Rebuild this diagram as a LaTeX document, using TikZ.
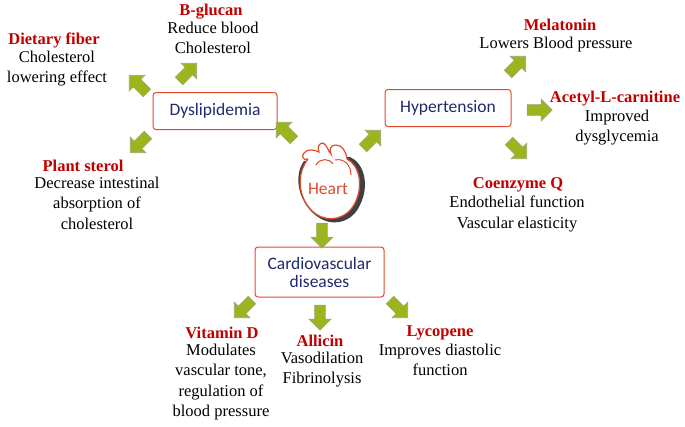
\documentclass[tikz,border=0pt]{standalone}
\usepackage{fontspec}
\setmainfont{Liberation Serif}
\newfontfamily\boxfont{Carlito}
\usetikzlibrary{shapes.arrows}
\definecolor{ttl}{HTML}{C00000}
\definecolor{navy}{HTML}{1F2A6B}
\definecolor{grn}{HTML}{9BB51E}
\definecolor{grnd}{HTML}{5E6E10}
\definecolor{bxr}{HTML}{E04A2A}
\begin{document}
\begin{tikzpicture}[x=1pt,y=-1pt,
  box/.style={draw=bxr,line width=1pt,rounded corners=3pt,fill=white,text=navy,font=\boxfont\fontsize{17.5}{19}\selectfont,align=center,inner sep=0pt},
  blk/.style={single arrow,draw=grnd!60,fill=grn,line width=0.6pt,minimum height=25pt,minimum width=22pt,single arrow head extend=3pt,inner sep=2.5pt,rotate=#1},
  ttl/.style={text=ttl,font=\bfseries\fontsize{16.5}{20}\selectfont,inner sep=0pt},
  bd/.style={font=\fontsize{16.5}{20.3}\selectfont,align=center,inner sep=0pt}]
\useasboundingbox (0,0) rectangle (685,426);
\node[box,minimum width=124pt,minimum height=37pt] (dys) at (215,111) {Dyslipidemia};
\node[box,minimum width=126pt,minimum height=37pt] (hyp) at (448,108) {Hypertension};
\node[box,minimum width=129pt,minimum height=50pt,text width=120pt] (cvd) at (319.5,272) {Cardiovascular\\[-1pt]diseases};
% heart
\begin{scope}[shift={(330,183)}]
\fill[black!75] (-26,-22) .. controls (-38,-5) and (-30,22) .. (-12,34) .. controls (2,44) and (22,40) .. (30,22) .. controls (40,2) and (34,-20) .. (20,-26) -- cycle;
\draw[bxr,line width=1.2pt,fill=white] (-22,-24) .. controls (-36,-6) and (-30,20) .. (-14,31) .. controls (-1,40) and (17,36) .. (25,20) .. controls (34,2) and (29,-18) .. (17,-24)
  .. controls (16,-32) and (12,-38) .. (6,-38) .. controls (0,-38) and (-1,-33) .. (1,-29) .. controls (-2,-32) and (-3,-38) .. (-7,-40)
  .. controls (-11,-40) and (-13,-36) .. (-11,-31) .. controls (-15,-33) and (-22,-35) .. (-26,-30) .. controls (-29,-27) and (-27,-22) .. (-22,-24);
\draw[bxr,line width=1pt] (-14,-18) .. controls (-10,-25) and (-1,-25) .. (3,-19);
\draw[bxr,line width=1pt] (5,-23) .. controls (14,-25) and (21,-18) .. (21,-8);
\node[text=bxr,font=\boxfont\fontsize{17.5}{19}\selectfont] (heart) at (-2,6) {Heart};
\end{scope}
% arrows
\node[blk=135] (a1) at (140,86) {};
\node[blk=45] (a2) at (186,74) {};
\node[blk=225] (a3) at (141,142) {};
\node[blk=135] (a4) at (287,133) {};
\node[blk=45] (a5) at (370,141) {};
\node[blk=45] (a6) at (515,67) {};
\node[blk=0] (a7) at (537,110) {};
\node[blk=-45] (a8) at (516,148) {};
\node[blk=-90] (a9) at (322,233) {};
\node[blk=225] (a10) at (245,307) {};
\node[blk=-90] (a11) at (320,315) {};
\node[blk=-45] (a12) at (397,307) {};
% texts
\node[ttl] (t1) at (54,40) {Dietary fiber};
\node[bd,anchor=north] (b1) at (57,51) {Cholesterol\\lowering effect};
\node[ttl] (t2) at (211,12) {B-glucan};
\node[bd,anchor=north] (b2) at (213,22) {Reduce blood\\Cholesterol};
\node[ttl] (t3) at (83,166) {Plant sterol};
\node[bd,anchor=north] (b3) at (97,177) {Decrease intestinal\\absorption of\\cholesterol};
\node[ttl] (t4) at (560,25) {Melatonin};
\node[bd,anchor=north] (b4) at (556,37) {Lowers Blood pressure};
\node[ttl] (t5) at (615,99) {Acetyl-L-carnitine};
\node[bd,anchor=north] (b5) at (617,110) {Improved\\dysglycemia};
\node[ttl] (t6) at (518,185) {Coenzyme Q};
\node[bd,anchor=north] (b6) at (517,196) {Endothelial function\\Vascular elasticity};
\node[ttl] (t7) at (222,333) {Vitamin D};
\node[bd,anchor=north] (b7) at (221,344) {Modulates\\vascular tone,\\regulation of\\blood pressure};
\node[ttl] (t8) at (320,341) {Allicin};
\node[bd,anchor=north] (b8) at (322,352) {Vasodilation\\Fibrinolysis};
\node[ttl] (t9) at (440,333) {Lycopene};
\node[bd,anchor=north] (b9) at (440,344) {Improves diastolic\\function};
\end{tikzpicture}
\end{document}
